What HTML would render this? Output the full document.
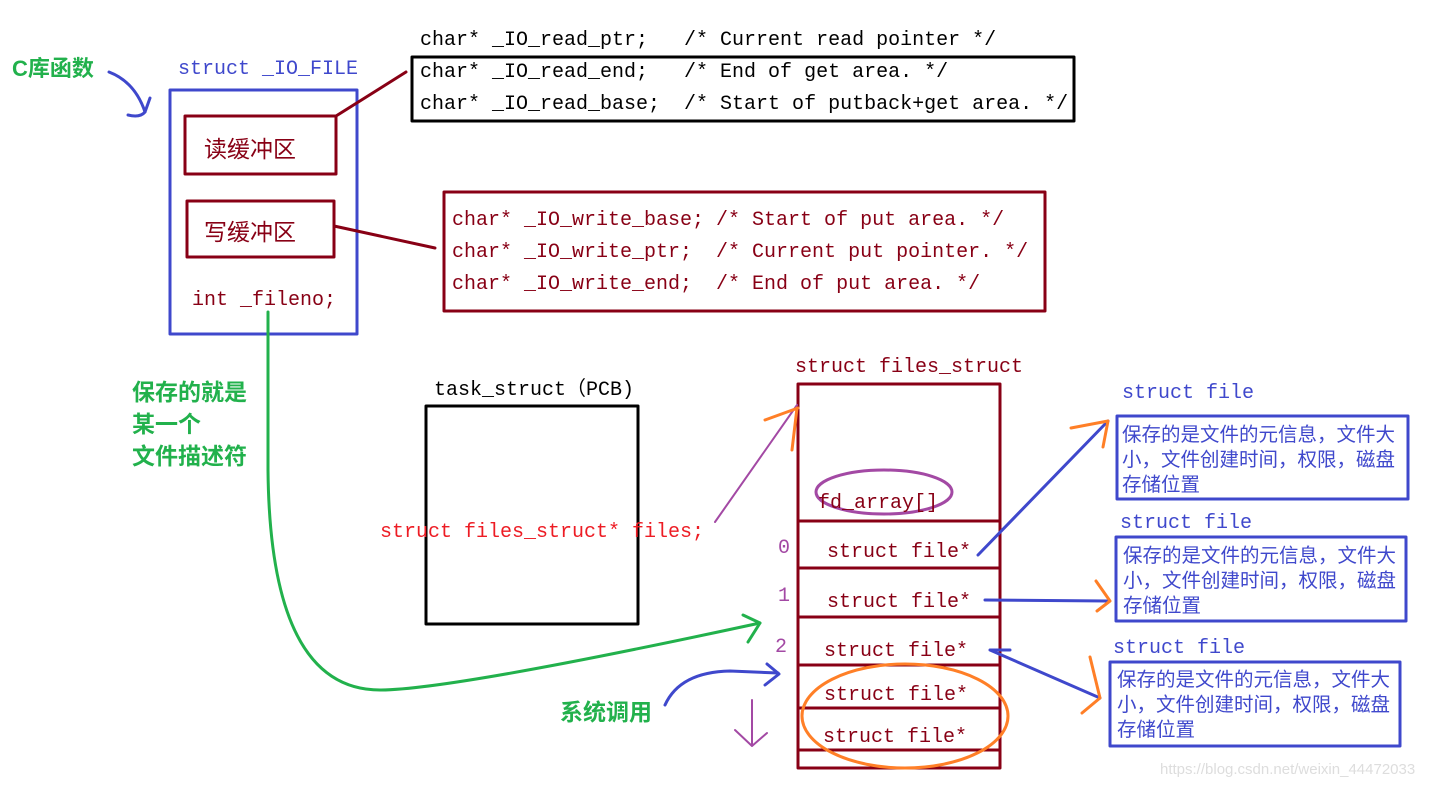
<!DOCTYPE html>
<html><head><meta charset="utf-8"><style>
html,body{margin:0;padding:0;background:#fff;}
svg{display:block;}
.m{font-family:"Liberation Mono","Noto Sans CJK SC",monospace;}
.c{font-family:"Liberation Sans","Noto Sans CJK SC",sans-serif;}
</style></head><body>
<svg width="1441" height="786" viewBox="0 0 1441 786" xmlns="http://www.w3.org/2000/svg">
<g fill="none" stroke-linecap="round" stroke-linejoin="round">
<path d="M109,72 Q135,82 145,112" stroke="#3f48cc" stroke-width="3"/>
<path d="M128,115 Q140,118 145,112 L150,98" stroke="#3f48cc" stroke-width="3"/>
<rect x="170" y="90" width="187" height="244" stroke="#3f48cc" stroke-width="3"/>
<rect x="185" y="116" width="151" height="58" stroke="#880015" stroke-width="3"/>
<rect x="187" y="201" width="147" height="56" stroke="#880015" stroke-width="3"/>
<line x1="336" y1="116" x2="406" y2="72" stroke="#880015" stroke-width="3"/>
<line x1="334" y1="226" x2="435" y2="248" stroke="#880015" stroke-width="3"/>
<rect x="412" y="57" width="662" height="64" stroke="#000" stroke-width="3"/>
<rect x="444" y="192" width="601" height="119" stroke="#880015" stroke-width="3"/>
<rect x="426" y="406" width="212" height="218" stroke="#000" stroke-width="3"/>
<rect x="798" y="384" width="202" height="384" stroke="#880015" stroke-width="3"/>
<g stroke="#880015" stroke-width="3">
<line x1="798" y1="521" x2="1000" y2="521"/><line x1="798" y1="568" x2="1000" y2="568"/>
<line x1="798" y1="617" x2="1000" y2="617"/><line x1="798" y1="665" x2="1000" y2="665"/>
<line x1="798" y1="708" x2="1000" y2="708"/><line x1="798" y1="750" x2="1000" y2="750"/>
</g>
<ellipse cx="884" cy="492" rx="68" ry="22" stroke="#a349a4" stroke-width="3"/>
<ellipse cx="905" cy="716" rx="103" ry="52" stroke="#ff7f27" stroke-width="3"/>
<line x1="715" y1="522" x2="797" y2="405" stroke="#a349a4" stroke-width="2"/>
<path d="M765,420 L798,408 M797,408 L792,450" stroke="#ff7f27" stroke-width="3"/>
<rect x="1117" y="416" width="291" height="83" stroke="#3f48cc" stroke-width="3"/>
<rect x="1116" y="537" width="290" height="84" stroke="#3f48cc" stroke-width="3"/>
<rect x="1110" y="662" width="290" height="84" stroke="#3f48cc" stroke-width="3"/>
<line x1="978" y1="555" x2="1108" y2="421" stroke="#3f48cc" stroke-width="3"/>
<path d="M1071,428 L1108,421 L1103,447" stroke="#ff7f27" stroke-width="3"/>
<path d="M985,600 L1108,601" stroke="#3f48cc" stroke-width="3"/>
<path d="M1096,581 L1110,601 L1097,611" stroke="#ff7f27" stroke-width="3"/>
<path d="M990,650 L1100,698 M990,650 L1010,650" stroke="#3f48cc" stroke-width="3"/>
<path d="M1090,657 L1100,698 L1082,713" stroke="#ff7f27" stroke-width="3"/>
<path d="M268,312 L268,470 Q270,690 380,690 Q450,690 760,623" stroke="#22b14c" stroke-width="3"/>
<path d="M743,615 L760,623 L748,642" stroke="#22b14c" stroke-width="3"/>
<path d="M665,705 Q680,672 730,671 L778,673" stroke="#3f48cc" stroke-width="3"/>
<path d="M767,664 L779,674 L765,685" stroke="#3f48cc" stroke-width="3"/>
<path d="M752,700 L752,746 M735,730 L752,746 L767,733" stroke="#a349a4" stroke-width="2"/>
</g>
<g class="m" font-size="20">
<text x="178" y="74" fill="#3f48cc">struct _IO_FILE</text>
<text x="192" y="305" fill="#880015">int _fileno;</text>
<text x="420" y="45" fill="#000" xml:space="preserve">char* _IO_read_ptr;   /* Current read pointer */</text>
<text x="420" y="77" fill="#000" xml:space="preserve">char* _IO_read_end;   /* End of get area. */</text>
<text x="420" y="109" fill="#000" xml:space="preserve">char* _IO_read_base;  /* Start of putback+get area. */</text>
<text x="452" y="225" fill="#880015" xml:space="preserve">char* _IO_write_base; /* Start of put area. */</text>
<text x="452" y="257" fill="#880015" xml:space="preserve">char* _IO_write_ptr;  /* Current put pointer. */</text>
<text x="452" y="289" fill="#880015" xml:space="preserve">char* _IO_write_end;  /* End of put area. */</text>
<text x="434" y="395" fill="#000">task_struct（PCB)</text>
<text x="380" y="537" fill="#ed1c24">struct files_struct* files;</text>
<text x="795" y="372" fill="#880015">struct files_struct</text>
<text x="818" y="508" fill="#880015">fd_array[]</text>
<text x="827" y="557" fill="#880015">struct file*</text>
<text x="827" y="607" fill="#880015">struct file*</text>
<text x="824" y="656" fill="#880015">struct file*</text>
<text x="824" y="700" fill="#880015">struct file*</text>
<text x="823" y="742" fill="#880015">struct file*</text>
<text x="778" y="553" fill="#a349a4">0</text>
<text x="778" y="601" fill="#a349a4">1</text>
<text x="775" y="652" fill="#a349a4">2</text>
<text x="1122" y="398" fill="#3f48cc">struct file</text>
<text x="1120" y="528" fill="#3f48cc">struct file</text>
<text x="1113" y="653" fill="#3f48cc">struct file</text>
</g>
<g class="c">
<text x="12" y="76" font-size="22" font-weight="bold" fill="#22b14c">C库函数</text>
<text x="204" y="157" font-size="23" fill="#880015">读缓冲区</text>
<text x="204" y="240" font-size="23" fill="#880015">写缓冲区</text>
<text x="132" y="400" font-size="23" font-weight="bold" fill="#22b14c">保存的就是</text>
<text x="132" y="432" font-size="23" font-weight="bold" fill="#22b14c">某一个</text>
<text x="132" y="464" font-size="23" font-weight="bold" fill="#22b14c">文件描述符</text>
<text x="560" y="720" font-size="23" font-weight="bold" fill="#22b14c">系统调用</text>
<g font-size="19.5" fill="#3f48cc">
<text x="1122" y="441">保存的是文件的元信息，文件大</text>
<text x="1122" y="466">小，文件创建时间，权限，磁盘</text>
<text x="1122" y="491">存储位置</text>
<text x="1123" y="562">保存的是文件的元信息，文件大</text>
<text x="1123" y="587">小，文件创建时间，权限，磁盘</text>
<text x="1123" y="612">存储位置</text>
<text x="1117" y="686">保存的是文件的元信息，文件大</text>
<text x="1117" y="711">小，文件创建时间，权限，磁盘</text>
<text x="1117" y="736">存储位置</text>
</g>
<text x="1160" y="774" font-size="15" fill="#dddddd">https://blog.csdn.net/weixin_44472033</text>
</g>
</svg>
</body></html>
